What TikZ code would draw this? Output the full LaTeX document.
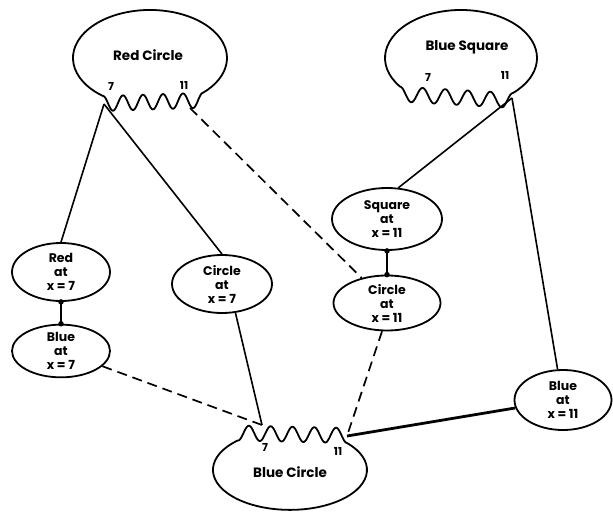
\documentclass[tikz,border=0pt]{standalone}
\usepackage{fontspec}
\setmainfont{Poppins}
\usetikzlibrary{shapes.geometric}
\newcommand\nodefont{\bfseries\fontsize{12.5}{14}\selectfont}
\newcommand\portfont{\bfseries\fontsize{11}{12}\selectfont}
\begin{document}
\begin{tikzpicture}[x=1pt,y=-1pt,
  oval/.style={draw, ellipse, line width=1.8pt, inner sep=0pt, align=center, font=\nodefont},
  blob/.style={draw, line width=1.8pt, line join=round},
  conn/.style={line width=1.6pt},
  dashconn/.style={line width=1.7pt, dash pattern=on 10pt off 6pt},
  heavy/.style={line width=2.8pt},
  dot/.style={fill, circle, inner sep=0pt, minimum size=5.5pt},
  port/.style={font=\portfont, inner sep=0pt},
  title/.style={font=\bfseries\fontsize{13.5}{15}\selectfont, inner sep=0pt}
]
\useasboundingbox (0,0) rectangle (613,516);

% Red Circle blob
\draw[blob] (103,96) arc[start angle=127.6, end angle=406.5, x radius=77, y radius=48]
  -- plot[domain=0:1, samples=150, variable=\t] ({203-100*\t},{92.8+3.2*\t+7.5*(1-cos(1800*\t))}) -- cycle;
\node[title] (rc) at (148,55) {Red Circle};
\node[port] (rc7l) at (111,86) {7};
\node[port] (rc11l) at (184,85) {11};
\coordinate (rc7) at (104,104);
\coordinate (rc11) at (190,108);

% Blue Square blob
\draw[blob] (400,86.6) arc[start angle=143.4, end angle=406.8, x radius=76, y radius=48]
  -- plot[domain=0:1, samples=150, variable=\t] ({513-113*\t},{93-6.4*\t+7.5*(1-cos(1800*\t))}) -- cycle;
\node[title] (bs) at (467,47) {Blue Square};
\node[port] (bs7l) at (428,77) {7};
\node[port] (bs11l) at (505,75) {11};
\coordinate (bs11) at (512,98);

% Blue Circle blob
\draw[blob] (347,443) arc[start angle=317.8, end angle=587.5, x radius=77, y radius=40]
  -- plot[domain=0:1, samples=150, variable=\t] ({238+109*\t},{440.5+2.5*\t-7.5*(1-cos(1800*\t))}) -- cycle;
\node[title] (bc) at (290,472) {Blue Circle};
\node[port] (bc7l) at (265,447) {7};
\node[port] (bc11l) at (338,451) {11};
\coordinate (bc7) at (262,425);
\coordinate (bc11) at (347,436);

% small nodes
\node[oval, minimum width=98pt, minimum height=58pt] (red7) at (61,272) {Red\\at\\x = 7};
\node[oval, minimum width=98pt, minimum height=52pt] (blue7) at (61,351) {Blue\\at\\x = 7};
\node[oval, minimum width=100pt, minimum height=58pt] (circ7) at (222,284) {Circle\\at\\x = 7};
\node[oval, minimum width=110pt, minimum height=62pt] (sq11) at (387,219) {Square\\at\\x = 11};
\node[oval, minimum width=107pt, minimum height=55pt] (circ11) at (387,303) {Circle\\at\\x = 11};
\node[oval, minimum width=97pt, minimum height=60pt] (blue11) at (563,400) {Blue\\at\\x = 11};

% connectors
\draw[conn] (rc7) -- (red7.north);
\draw[conn] (rc7) -- (circ7.north);
\draw[dashconn] (rc11) -- (circ11);
\draw[conn] (red7.south) -- (blue7.north);
\node[dot] at (red7.south) {};
\node[dot] at (blue7.north) {};
\draw[dashconn] (blue7) -- (bc7);
\draw[conn] (circ7.-65) -- (bc7);
\draw[conn] (bs11) -- (sq11.70);
\draw[conn] (sq11.south) -- (circ11.north);
\node[dot] at (sq11.south) {};
\node[dot] at (circ11.north) {};
\draw[conn] (bs11) -- (blue11.100);
\draw[dashconn] (circ11.-100) -- (bc11);
\draw[heavy] (blue11) -- (bc11);
\end{tikzpicture}
\end{document}
